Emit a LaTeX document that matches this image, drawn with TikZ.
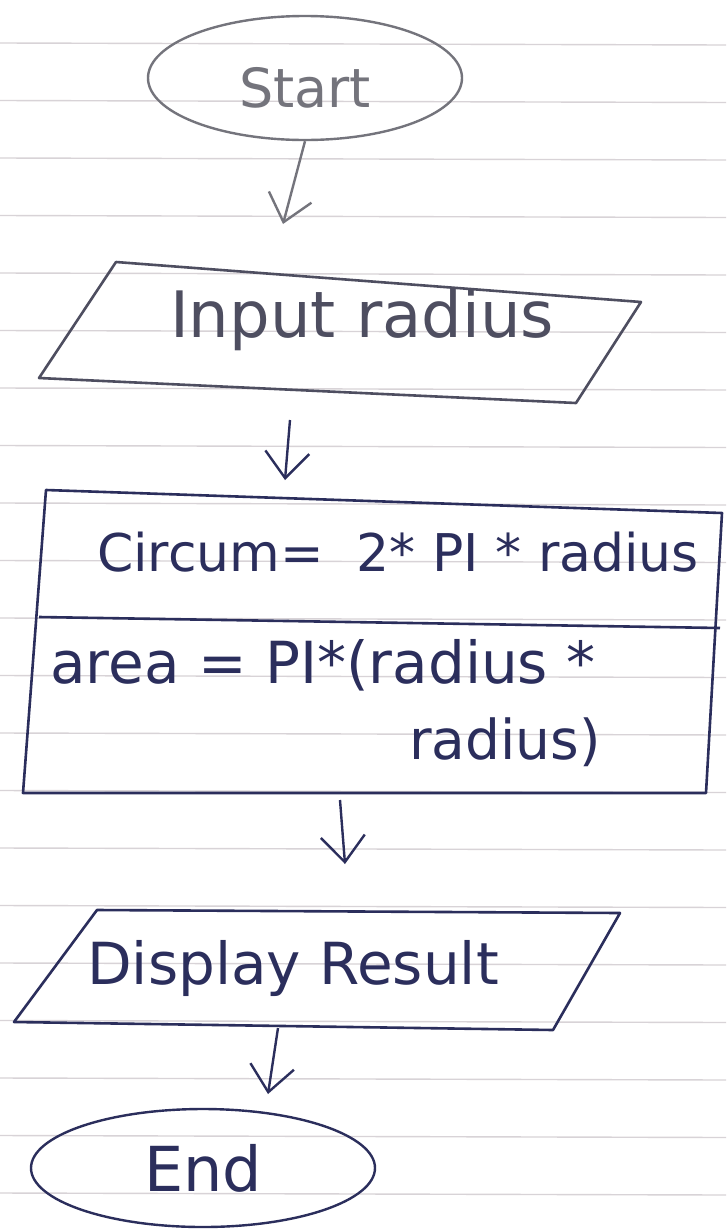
\documentclass[tikz,border=0pt]{standalone}
\usepackage{fontspec}
\setmainfont{DejaVu Sans}
\usetikzlibrary{shapes.geometric,arrows.meta}
\definecolor{ink}{HTML}{2B2E5C}
\definecolor{pencil}{HTML}{74747C}
\definecolor{greyink}{HTML}{4E4E60}
\definecolor{ruling}{HTML}{D8D3D7}
\begin{document}
\begin{tikzpicture}[x=1pt,y=-1pt,
  term/.style={ellipse, line width=2.4pt, inner sep=0pt},
  outline/.style={draw=ink, line width=2.6pt, line join=round},
  label/.style={inner sep=0pt, text=ink},
  conn/.style={draw=ink, line width=2.4pt, -{Straight Barb[length=26pt,width=44pt]}}]
  \useasboundingbox (0,0) rectangle (726,1232);
  \fill[white] (0,0) rectangle (726,1232);
  % ruled notebook lines
  \foreach \k in {0,...,20}
    \draw[ruling, line width=1.4pt] (0,{43+57.5*\k}) -- (726,{45+57.5*\k});

  % terminal: start (text sits a little below the ellipse centre)
  \node[term, draw=pencil, text=pencil, minimum width=314pt, minimum height=124pt,
        font=\fontsize{54}{60}\selectfont] (start) at (305,78)
        {\raisebox{-29pt}[0pt][0pt]{Start}};

  % input parallelogram
  \draw[outline, draw=greyink] (116,262) -- (641,302) -- (576,403) -- (39,378) -- cycle;
  \node[label, text=greyink, font=\fontsize{64}{70}\selectfont] (inp) at (362,320) {Input radius};

  % process box with two statements
  \draw[outline] (46,490) -- (722,513) -- (706,793) -- (23,793) -- cycle;
  \draw[outline] (39,617) -- (720,628);
  \node[label, font=\fontsize{52}{58}\selectfont] (circ) at (398,552) {Circum=\ \ 2* PI * radius};
  \node[label, font=\fontsize{58}{64}\selectfont] (area) at (323,665) {area = PI*(radius *};
  \node[label, font=\fontsize{55}{60}\selectfont] (area2) at (505,742) {radius)};

  % output parallelogram
  \draw[outline] (97,910) -- (620,913) -- (553,1030) -- (14,1022) -- cycle;
  \node[label, font=\fontsize{58}{64}\selectfont] (out) at (293,968) {Display Result};

  % terminal: end
  \node[term, draw=ink, text=ink, minimum width=344pt, minimum height=118pt,
        font=\fontsize{62}{68}\selectfont] (end) at (203,1168) {End};

  % connector end points
  \coordinate (a1e) at (283,224);
  \coordinate (a2s) at (290,420);
  \coordinate (a2e) at (285,480);
  \coordinate (a3s) at (340,800);
  \coordinate (a3e) at (345,864);
  \coordinate (a4s) at (278,1028);
  \coordinate (a4e) at (268,1094);

  \draw[conn, draw=pencil] (start.south) -- (a1e);
  \draw[conn] (a2s) -- (a2e);
  \draw[conn] (a3s) -- (a3e);
  \draw[conn] (a4s) -- (a4e);
\end{tikzpicture}
\end{document}
